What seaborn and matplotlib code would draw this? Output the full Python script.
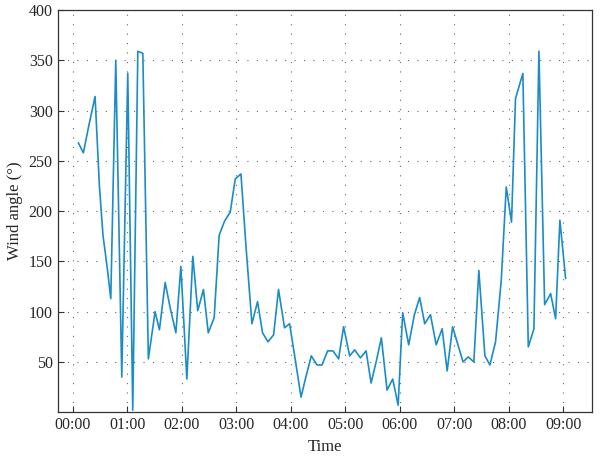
import matplotlib
matplotlib.use("Agg")
import matplotlib.pyplot as plt
from matplotlib.ticker import FuncFormatter, MultipleLocator
import seaborn as sns
import pandas as pd

# minutes after 00:00
minutes = [5.8, 11.4, 17.6, 24.3, 29.0, 33.0, 37.5, 41.6, 47.1, 53.7,
           60.3, 65.8, 71.4, 76.9, 83.0, 90.4, 95.2, 101.5, 107.0, 113.3,
           118.8, 125.4, 132.0, 137.4, 143.7, 149.0, 155.5, 161.0, 166.9, 173.2,
           178.7, 185.0, 190.8, 197.1, 203.3, 208.8, 214.8, 221.0, 226.4, 233.0,
           238.6, 244.9, 251.2, 256.8, 262.5, 268.8, 274.3, 280.5, 286.4, 292.6,
           298.1, 304.8, 310.3, 316.6, 322.9, 328.4, 334.2, 339.7, 346.0, 352.2,
           358.2, 363.2, 369.8, 376.1, 381.9, 387.5, 393.8, 400.1, 406.7, 412.2,
           418.2, 424.1, 429.7, 435.4, 441.6, 447.1, 453.8, 459.3, 465.5, 471.8,
           477.3, 483.1, 487.5, 495.6, 501.6, 507.8, 513.3, 519.6, 526.2, 531.7,
           536.4, 542.7]
wind_angle = [268, 258, 286, 314, 226, 176, 145, 113, 350, 35,
              337, 2, 359, 357, 53, 100, 82, 129, 104, 79,
              145, 33, 155, 101, 122, 79, 94, 176, 190, 199,
              232, 237, 162, 88, 110, 79, 70, 77, 122, 84,
              88, 52, 15, 36, 56, 47, 47, 61, 61, 53,
              85, 56, 62, 54, 61, 29, 51, 74, 22, 33,
              7, 99, 67, 97, 114, 88, 97, 67, 83, 41,
              85, 67, 50, 55, 50, 141, 56, 47, 70, 131,
              224, 189, 312, 337, 65, 83, 359, 107, 118, 93,
              191, 133]

df = pd.DataFrame({"minutes": minutes, "angle": wind_angle})

sns.set_style("ticks")
plt.rcParams["font.family"] = ["Liberation Serif", "DejaVu Serif"]

fig = plt.figure(figsize=(6, 4.58), dpi=100)
ax = fig.add_axes([0.096, 0.10, 0.891, 0.878])

sns.lineplot(data=df, x="minutes", y="angle", ax=ax, color="#1a8cc8",
             linewidth=1.2, estimator=None)

ax.set_xlim(-17, 572)
ax.set_ylim(0, 400)
ax.xaxis.set_major_locator(MultipleLocator(60))
ax.xaxis.set_major_formatter(FuncFormatter(lambda v, p: f"{int(v // 60):02d}:{int(v % 60):02d}"))
ax.set_yticks(range(50, 401, 50))

ax.grid(True, linestyle=(0, (1, 7.5)), color="#666666", linewidth=0.8)
ax.tick_params(direction="in", length=4, labelsize=11.5, color="#333333")
for s in ax.spines.values():
    s.set_color("#333333")
    s.set_linewidth(0.9)

ax.set_xlabel("Time", fontsize=12)
ax.set_ylabel("Wind angle (°)", fontsize=12)

fig.savefig("out.png", dpi=100)
